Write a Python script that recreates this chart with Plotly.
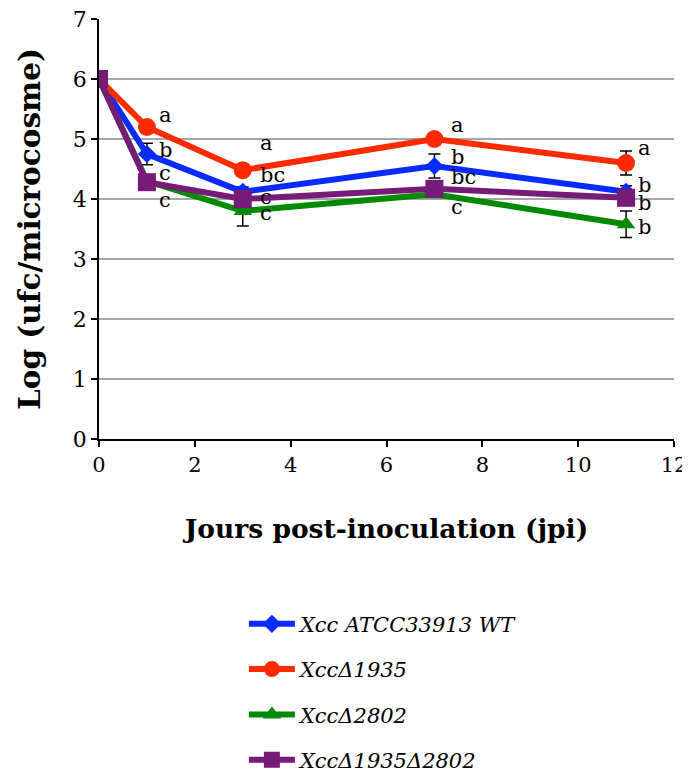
import plotly.graph_objects as go

# ---- data ----
days = [0, 1, 3, 7, 11]
series_names = ["<i>Xcc ATCC33913 WT</i>", "<i>XccΔ1935</i>", "<i>XccΔ2802</i>", "<i>XccΔ1935Δ2802</i>"]
wt_vals = [6.0, 4.75, 4.12, 4.55, 4.12]
d1935_vals = [6.0, 5.2, 4.48, 5.0, 4.6]
d2802_vals = [6.0, 4.3, 3.8, 4.08, 3.58]
d1935_2802_vals = [6.0, 4.28, 4.0, 4.17, 4.02]
wt_err = [0.0, 0.18, 0.08, 0.2, 0.1]
d1935_err = [0.0, 0.05, 0.1, 0.05, 0.2]
d2802_err = [0.0, 0.1, 0.25, 0.05, 0.22]
d1935_2802_err = [0.0, 0.05, 0.05, 0.05, 0.05]
wt_letters = ["", "b", "bc", "b", "b"]
d1935_letters = ["", "a", "a", "a", "a"]
d2802_letters = ["", "c", "c", "c", "b"]
d1935_2802_letters = ["", "c", "c", "bc", "b"]
x_ticks = [0, 2, 4, 6, 8, 10, 12]
y_ticks = [0, 1, 2, 3, 4, 5, 6, 7]

# ---- styles ----
colors = ["#0A2BFF", "#FF2A00", "#008A00", "#761C78"]
symbols = ["diamond", "circle", "triangle-up", "square"]
msizes = [14, 18, 16, 18]
yshifts = [
    [0, 4, 17, 9, 7],
    [0, 12, 27, 14, 15],
    [0, 8, -2, -13, -3],
    [0, -18, 2, 12, -5],
]
xshifts = [0, 10, 15, 15, 10]

vals = [wt_vals, d1935_vals, d2802_vals, d1935_2802_vals]
errs = [wt_err, d1935_err, d2802_err, d1935_2802_err]
letters = [wt_letters, d1935_letters, d2802_letters, d1935_2802_letters]

F_SERIF = "DejaVu Serif"

fig = go.Figure()
for i in range(4):
    fig.add_trace(go.Scatter(
        x=days, y=vals[i], mode="lines+markers", name=series_names[i],
        legendgroup=f"g{i}",
        line=dict(color=colors[i], width=6),
        marker=dict(symbol=symbols[i], size=msizes[i], color=colors[i]),
        error_y=dict(type="data", array=errs[i], visible=True, color="black",
                     thickness=1.5, width=6),
    ))

annotations = []
for i in range(4):
    for j, d in enumerate(days):
        if letters[i][j]:
            annotations.append(dict(
                x=d, y=vals[i][j], text=letters[i][j], showarrow=False,
                xanchor="left", yanchor="middle",
                xshift=xshifts[j], yshift=yshifts[i][j],
                font=dict(family=F_SERIF, size=21, color="black"),
            ))

fig.update_layout(
    width=690, height=786,
    margin=dict(l=91, r=24, t=11, b=355),
    paper_bgcolor="white", plot_bgcolor="white",
    font=dict(family=F_SERIF, color="black"),
    annotations=annotations,
    showlegend=True,
    legend=dict(x=0.252, y=-0.392, xanchor="left", yanchor="top",
                font=dict(family=F_SERIF, size=21, color="black"),
                itemwidth=46,
                tracegroupgap=15, bgcolor="rgba(0,0,0,0)"),
    xaxis=dict(range=[0, 12], tickvals=x_ticks, showgrid=False, zeroline=False,
               automargin=False, ticklabeloverflow="allow",
               showline=True, linecolor="black", linewidth=1.5,
               ticks="outside", ticklen=6, tickcolor="black", tickwidth=1.5,
               tickfont=dict(family=F_SERIF, size=21),
               title=dict(text="<b>Jours post-inoculation (jpi)</b>",
                          font=dict(family=F_SERIF, size=26.5), standoff=43)),
    yaxis=dict(range=[0, 7], tickvals=y_ticks, showgrid=True, gridcolor="#A6A6A6",
               gridwidth=1.5, zeroline=False, automargin=False,
               ticklabeloverflow="allow",
               showline=True, linecolor="black", linewidth=1.5,
               ticks="outside", ticklen=6, tickcolor="black", tickwidth=1.5,
               tickfont=dict(family=F_SERIF, size=22),
               title=dict(text="<b>Log (ufc/microcosme)</b>",
                          font=dict(family=F_SERIF, size=29.5), standoff=24)),
)

fig.write_html("out.html")
